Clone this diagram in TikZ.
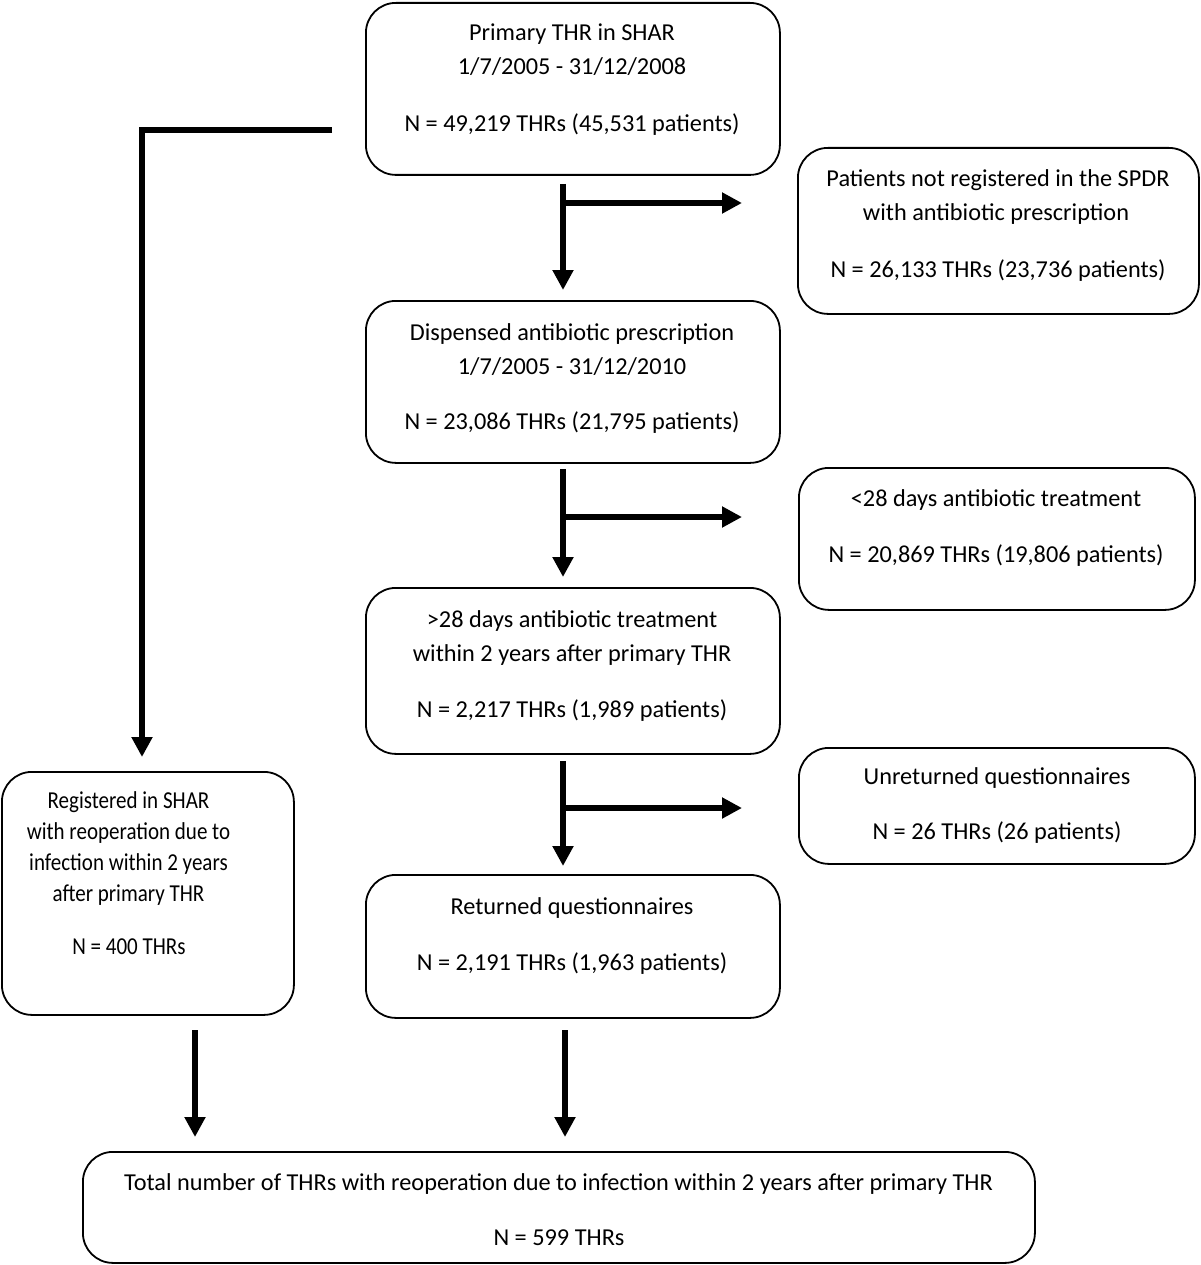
\documentclass[tikz,border=0pt]{standalone}
\usepackage{fontspec}
\setmainfont{Carlito}
\usetikzlibrary{arrows.meta}
\newcommand{\narrowtext}[1]{\scalebox{0.865}[1]{#1}}
\begin{document}
\begin{tikzpicture}[x=1pt,y=-1pt,
  box/.style={draw, line width=1.8pt, rounded corners=30pt, anchor=north west, inner sep=0pt},
  txt/.style={font=\fontsize{24.3}{31}\selectfont, inner sep=0pt, text height=19pt, text depth=3pt},
  arr/.style={line width=6pt, -{Triangle[length=20pt,width=20pt]}}]
\useasboundingbox (0,0) rectangle (1200,1265);

% boxes
\node[box, minimum width=414pt, minimum height=172pt] (b1) at (365,2) {};
\node[box, minimum width=401pt, minimum height=166pt] (r1) at (797,147) {};
\node[box, minimum width=414pt, minimum height=162pt] (b2) at (365,300) {};
\node[box, minimum width=396pt, minimum height=142pt] (r2) at (798,467) {};
\node[box, minimum width=414pt, minimum height=166pt] (b3) at (365,587) {};
\node[box, minimum width=396pt, minimum height=116pt] (r3) at (798,747) {};
\node[box, minimum width=414pt, minimum height=143pt] (b4) at (365,874) {};
\node[box, minimum width=292pt, minimum height=243pt] (lb) at (1,771) {};
\node[box, minimum width=952pt, minimum height=111pt] (bt) at (82,1151) {};

% texts
\node[txt] (t1a) at (572,33) {Primary THR in SHAR};
\node[txt] (t1b) at (572,67) {1/7/2005 - 31/12/2008};
\node[txt] (t1c) at (572,124) {N = 49,219 THRs (45,531 patients)};

\node[txt] (r1a) at (998,179) {Patients not registered in the SPDR};
\node[txt] (r1b) at (996,213) {with antibiotic prescription};
\node[txt] (r1c) at (998,269) {N = 26,133 THRs (23,736 patients)};

\node[txt] (t2a) at (572,332) {Dispensed antibiotic prescription};
\node[txt] (t2b) at (572,366) {1/7/2005 - 31/12/2010};
\node[txt] (t2c) at (572,421) {N = 23,086 THRs (21,795 patients)};

\node[txt] (r2a) at (996,498) {<28 days antibiotic treatment};
\node[txt] (r2b) at (996,554) {N = 20,869 THRs (19,806 patients)};

\node[txt] (t3a) at (572,619) {>28 days antibiotic treatment};
\node[txt] (t3b) at (572,653) {within 2 years after primary THR};
\node[txt] (t3c) at (572,709) {N = 2,217 THRs (1,989 patients)};

\node[txt] (r3a) at (997,776) {Unreturned questionnaires};
\node[txt] (r3b) at (997,831) {N = 26 THRs (26 patients)};

\node[txt] (t4a) at (572,906) {Returned questionnaires};
\node[txt] (t4b) at (572,962) {N = 2,191 THRs (1,963 patients)};

\node[txt] (la) at (128.5,800) {\narrowtext{Registered in SHAR}};
\node[txt] (lbx) at (128.5,831) {\narrowtext{with reoperation due to}};
\node[txt] (lc) at (128.5,862) {\narrowtext{infection within 2 years}};
\node[txt] (ld) at (128.5,893) {\narrowtext{after primary THR}};
\node[txt] (le) at (129,946) {\narrowtext{N = 400 THRs}};

\node[txt] (bta) at (558.5,1182) {Total number of THRs with reoperation due to infection within 2 years after primary THR};
\node[txt] (btb) at (559,1237) {N = 599 THRs};

% connector coordinates
\coordinate (a1s) at (563,184);
\coordinate (a1e) at (563,290);
\coordinate (a1b) at (563,203);
\coordinate (a1r) at (742,203);
\coordinate (a2s) at (563,469);
\coordinate (a2e) at (563,577);
\coordinate (a2b) at (563,517);
\coordinate (a2r) at (742,517);
\coordinate (a3s) at (563,761);
\coordinate (a3e) at (563,866);
\coordinate (a3b) at (563,808);
\coordinate (a3r) at (742,808);
\coordinate (a4s) at (565,1030);
\coordinate (a4e) at (565,1137);
\coordinate (a5s) at (195,1030);
\coordinate (a5e) at (195,1137);
\coordinate (ls) at (332,130);
\coordinate (lk) at (142,130);
\coordinate (le2) at (142,757);

% connectors
\draw[arr] (a1s) -- (a1e);
\draw[arr] (a1b) -- (a1r);
\draw[arr] (a2s) -- (a2e);
\draw[arr] (a2b) -- (a2r);
\draw[arr] (a3s) -- (a3e);
\draw[arr] (a3b) -- (a3r);
\draw[arr] (a4s) -- (a4e);
\draw[arr] (a5s) -- (a5e);
\draw[arr, line join=miter] (ls) -- (lk) -- (le2);
\end{tikzpicture}
\end{document}
